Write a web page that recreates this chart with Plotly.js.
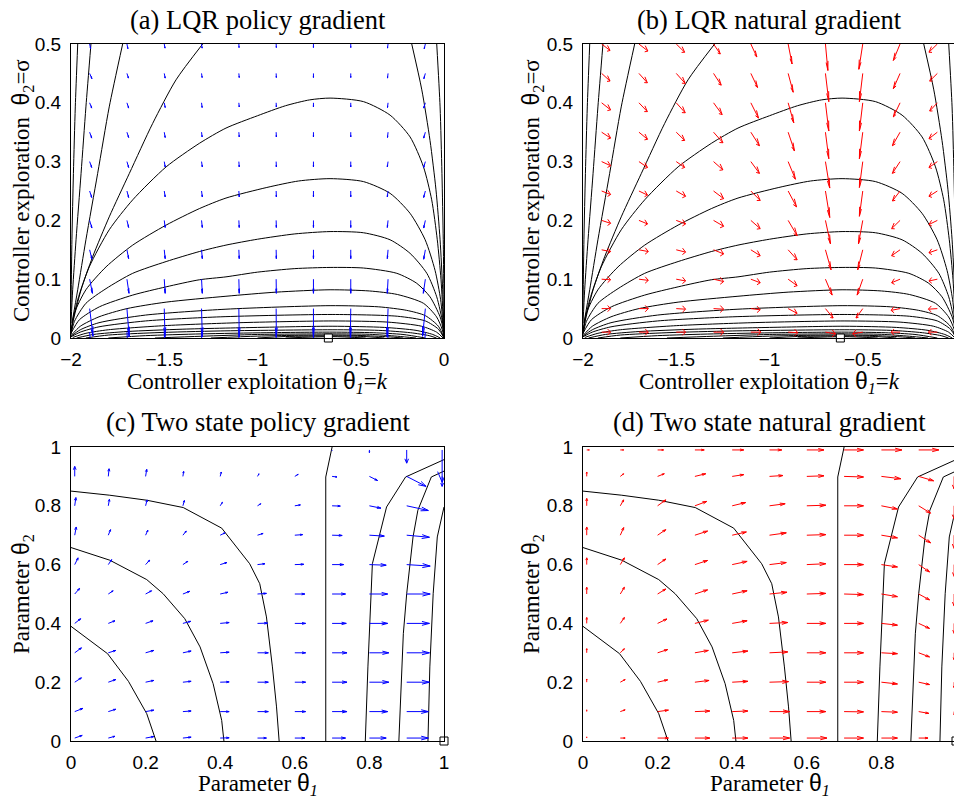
<!DOCTYPE html>
<html><head><meta charset="utf-8">
<script src="https://cdn.plot.ly/plotly-3.0.1.min.js"></script>
<style>html,body{margin:0;padding:0;overflow:hidden;background:#fff}#plot{width:960px;height:802px}</style>
</head><body><div id="plot"></div>
<script>
// ---------- LQR panels (a),(b) ----------
const lqrK = [-1.9,-1.7,-1.5,-1.3,-1.1,-0.9,-0.7,-0.5,-0.3,-0.1];
const lqrSigma = [0.01,0.05,0.10,0.15,0.20,0.25,0.30,0.35,0.40,0.45,0.50];

// vanilla policy gradient (a): rows follow lqrSigma, columns follow lqrK
const pgU_lqr = [
 [0.021,0.016,0.008,0.005,0.003,0.001,0,-0.002,-0.006,-0.016],
 [0.018,0.012,0.004,0.004,0.002,0.001,0,-0.002,-0.005,-0.015],
 [0.015,0.011,0.005,0.004,0.002,0.001,0,0,-0.004,-0.011],
 [0.012,0.009,0.005,0.004,0.002,0.001,0,0,-0.004,-0.009],
 [0.012,0.009,0.005,0.004,0.002,0.001,0,0,-0.004,-0.009],
 [0.011,0.009,0.005,0.004,0.002,0.001,0,0,-0.004,-0.009],
 [0.011,0.009,0.005,0.004,0.002,0.001,0,0,-0.004,-0.009],
 [0.011,0.009,0.005,0.003,0.002,0.001,0,0,-0.003,-0.009],
 [0.011,0.009,0.005,0.003,0.002,0.001,0,0,-0.003,-0.009],
 [0.012,0.008,0.005,0.003,0.002,0.001,0,0,-0.003,-0.008],
 [0.005,0.005,0.004,0.003,0.001,0.001,0,0,-0.003,-0.006]];
const pgV_lqr = [
 [-0.080,-0.080,-0.080,-0.080,-0.080,-0.080,-0.080,-0.080,-0.080,-0.080],
 [-0.047,-0.048,-0.048,-0.048,-0.048,-0.048,-0.048,-0.048,-0.048,-0.047],
 [-0.024,-0.024,-0.024,-0.024,-0.024,-0.024,-0.024,-0.024,-0.024,-0.024],
 [-0.016,-0.015,-0.015,-0.015,-0.015,-0.015,-0.015,-0.015,-0.015,-0.016],
 [-0.013,-0.012,-0.012,-0.012,-0.012,-0.012,-0.012,-0.012,-0.012,-0.013],
 [-0.011,-0.011,-0.010,-0.010,-0.010,-0.010,-0.010,-0.010,-0.010,-0.011],
 [-0.010,-0.010,-0.009,-0.009,-0.009,-0.009,-0.009,-0.009,-0.009,-0.010],
 [-0.010,-0.009,-0.009,-0.008,-0.008,-0.008,-0.008,-0.008,-0.009,-0.010],
 [-0.009,-0.009,-0.008,-0.008,-0.007,-0.007,-0.007,-0.007,-0.008,-0.009],
 [-0.009,-0.008,-0.008,-0.007,-0.007,-0.007,-0.007,-0.007,-0.008,-0.009],
 [-0.008,-0.008,-0.007,-0.007,-0.006,-0.006,-0.006,-0.006,-0.007,-0.008]];

// natural gradient (b)
const ngU_lqr = [
 [0.048,0.050,0.050,0.054,0.054,0.052,0.054,-0.054,-0.048,-0.048],
 [0.048,0.050,0.050,0.054,0.050,0.048,0.041,-0.036,-0.048,-0.048],
 [0.048,0.050,0.050,0.054,0.050,0.048,0.036,-0.030,-0.045,-0.045],
 [0.048,0.050,0.050,0.054,0.050,0.048,0.030,-0.027,-0.045,-0.045],
 [0.048,0.046,0.050,0.054,0.050,0.048,0.027,-0.023,-0.045,-0.045],
 [0.048,0.046,0.050,0.054,0.050,0.045,0.023,-0.018,-0.041,-0.045],
 [0.048,0.046,0.045,0.050,0.046,0.039,0.023,-0.018,-0.041,-0.045],
 [0.048,0.046,0.045,0.050,0.046,0.034,0.018,-0.018,-0.041,-0.045],
 [0.048,0.045,0.048,0.046,0.041,0.030,0.018,-0.018,-0.036,-0.041],
 [0.045,0.045,0.048,0.041,0.036,0.027,0.018,-0.018,-0.036,-0.041],
 [0.045,0.048,0.045,0.036,0.032,0.021,0.013,-0.021,-0.036,-0.045]];
const ngV_lqr = [
 [0,0,0,0,0,-0.001,-0.003,-0.003,0,0],
 [0,0,-0.001,-0.001,-0.002,-0.008,-0.016,-0.016,-0.003,-0.001],
 [-0.001,-0.002,-0.003,-0.004,-0.006,-0.011,-0.027,-0.027,-0.006,-0.003],
 [-0.003,-0.003,-0.004,-0.007,-0.010,-0.017,-0.034,-0.034,-0.010,-0.005],
 [-0.005,-0.006,-0.006,-0.010,-0.014,-0.026,-0.040,-0.040,-0.014,-0.007],
 [-0.006,-0.007,-0.009,-0.013,-0.016,-0.027,-0.045,-0.043,-0.017,-0.009],
 [-0.007,-0.010,-0.010,-0.014,-0.020,-0.030,-0.045,-0.044,-0.020,-0.010],
 [-0.010,-0.012,-0.014,-0.018,-0.023,-0.032,-0.045,-0.045,-0.023,-0.011],
 [-0.012,-0.015,-0.017,-0.020,-0.026,-0.034,-0.048,-0.048,-0.024,-0.014],
 [-0.013,-0.016,-0.017,-0.020,-0.024,-0.032,-0.048,-0.048,-0.026,-0.013],
 [-0.011,-0.012,-0.014,-0.017,-0.022,-0.034,-0.045,-0.043,-0.028,-0.014]];

// cost contour lines (same in (a) and (b))
const lqrContourX = [
 [-2.0,-1.995,-1.987,-1.977,-1.964],
 [-2.0,-1.991,-1.973,-1.946,-1.92,-1.893],
 [-1.995,-1.964,-1.92,-1.857,-1.795,-1.723],
 [-2.0,-1.991,-1.946,-1.884,-1.795,-1.687,-1.562,-1.437,-1.294],
 [-0.173,-0.119,-0.075,-0.043,-0.021,-0.007,0.0],
 [-0.039,-0.021,-0.011,-0.004,0.0],
 [-2.0,-1.964,-1.902,-1.795,-1.669,-1.49,-1.312,-1.169,-1.0,-0.85,-0.72,-0.611,-0.432,-0.289,-0.182,-0.110,-0.066,-0.036,-0.016,-0.004,0.0],
 [-2.0,-1.982,-1.92,-1.812,-1.669,-1.49,-1.312,-1.169,-0.95,-0.78,-0.611,-0.432,-0.289,-0.182,-0.101,-0.048,-0.018,-0.004,0.0],
 [-2.0,-1.982,-1.92,-1.812,-1.669,-1.49,-1.312,-1.169,-1.0,-0.8,-0.611,-0.432,-0.289,-0.182,-0.092,-0.039,-0.007,0.0],
 [-2.0,-1.955,-1.848,-1.669,-1.49,-1.312,-1.169,-1.0,-0.8,-0.611,-0.432,-0.253,-0.146,-0.075,-0.021,-0.004,0.0],
 [-2.0,-1.95,-1.85,-1.70,-1.49,-1.169,-0.9,-0.611,-0.4,-0.25,-0.11,-0.04,-0.01,0.0],
 [-2.0,-1.95,-1.85,-1.6,-1.169,-0.611,-0.35,-0.2,-0.1,-0.03,0.0],
 [-2.0,-1.95,-1.85,-1.6,-1.2,-0.6,-0.25,-0.1,-0.03,0.0],
 [-1.99,-1.92,-1.8,-1.5,-1.1,-0.6,-0.3,-0.12,-0.04,-0.005],
 [-1.97,-1.88,-1.7,-1.4,-1.0,-0.6,-0.32,-0.15,-0.06,-0.02],
 [-1.92,-1.8,-1.55,-1.2,-0.6,-0.35,-0.18,-0.08,-0.04],
 [-1.8,-1.6,-1.3,-0.95,-0.6,-0.38,-0.22,-0.1],
 [-1.55,-1.3,-1.0,-0.6,-0.4,-0.25,-0.15],
 [-1.25,-1.0,-0.8,-0.6,-0.45,-0.3,-0.22],
 [-1.0,-0.85,-0.6,-0.45,-0.32],
 [-0.85,-0.6,-0.42]];
const lqrContourY = [
 [0.05,0.167,0.28,0.393,0.5],
 [0.025,0.082,0.167,0.28,0.393,0.5],
 [0.025,0.082,0.167,0.28,0.393,0.5],
 [0.008,0.025,0.082,0.138,0.206,0.28,0.365,0.439,0.5],
 [0.5,0.422,0.336,0.252,0.167,0.082,0.008],
 [0.5,0.393,0.28,0.167,0.053],
 [0.014,0.065,0.121,0.184,0.235,0.291,0.331,0.357,0.378,0.395,0.405,0.408,0.402,0.379,0.342,0.291,0.235,0.167,0.099,0.031,0.0],
 [0.008,0.042,0.082,0.121,0.158,0.192,0.220,0.238,0.256,0.267,0.271,0.266,0.246,0.212,0.167,0.115,0.065,0.019,0.0],
 [0.006,0.028,0.059,0.084,0.110,0.130,0.147,0.158,0.168,0.177,0.181,0.179,0.167,0.144,0.110,0.070,0.025,0.0],
 [0.008,0.031,0.053,0.073,0.087,0.099,0.104,0.112,0.118,0.120,0.119,0.110,0.093,0.070,0.036,0.014,0.0],
 [0.004,0.020,0.036,0.050,0.061,0.071,0.078,0.082,0.080,0.074,0.059,0.036,0.015,0.0],
 [0.003,0.014,0.026,0.039,0.049,0.055,0.053,0.047,0.038,0.020,0.0],
 [0.002,0.010,0.019,0.029,0.036,0.040,0.037,0.029,0.015,0.0],
 [0.001,0.008,0.014,0.021,0.026,0.029,0.027,0.020,0.010,0.0],
 [0.0,0.006,0.011,0.015,0.018,0.020,0.018,0.013,0.006,0.0],
 [0.0,0.005,0.009,0.012,0.014,0.013,0.009,0.004,0.0],
 [0.0,0.004,0.007,0.009,0.010,0.009,0.006,0.0],
 [0.0,0.003,0.006,0.007,0.0063,0.003,0.0],
 [0.0,0.0032,0.0045,0.005,0.0043,0.002,0.0],
 [0.0,0.0025,0.0035,0.0028,0.0],
 [0.0,0.0023,0.0]];
const lqrOptimum = {k: [-0.62], sigma: [0]};

// ---------- Two state panels (c),(d) ----------
const tsTheta1 = [0.01,0.1,0.2,0.3,0.4,0.5,0.6,0.7,0.8,0.9,0.995];
const tsTheta2 = [0.01,0.1,0.2,0.3,0.4,0.5,0.6,0.7,0.8,0.9,0.99];

const pgU_ts = [
 [0.020,0.018,0.022,0.022,0.024,0.024,0.027,0.036,0.045,0.058,0],
 [0.022,0.020,0.022,0.022,0.024,0.029,0.029,0.040,0.049,0.058,0],
 [0.018,0.020,0.022,0.022,0.024,0.029,0.029,0.040,0.052,0.061,0],
 [0.018,0.020,0.022,0.022,0.024,0.029,0.029,0.040,0.052,0.061,0],
 [0.016,0.018,0.020,0.021,0.024,0.027,0.029,0.038,0.049,0.061,0],
 [0.013,0.013,0.016,0.018,0.021,0.024,0.027,0.036,0.049,0.063,0],
 [0.009,0.009,0.011,0.013,0.018,0.020,0.024,0.031,0.045,0.063,0],
 [0.004,0.006,0.006,0.009,0.013,0.015,0.021,0.027,0.040,0.061,0],
 [0.003,0.003,0.004,0.004,0.006,0.009,0.015,0.022,0.031,0.058,0],
 [0,0.002,0.003,0.002,0.003,0.004,0.009,0.013,0.022,0.052,0],
 [0,0,0,0,0,0,0,0,0,0,0]];
const pgV_ts = [
 [0.009,0.006,0.005,0.003,0.001,0,0,0,0,0,0],
 [0.011,0.008,0.005,0.002,0,0,0,0,0,0,0],
 [0.015,0.009,0.006,0.003,0.001,0,0,0,0,0,0],
 [0.017,0.008,0.008,0.006,0.002,0,0,0,0,0,0],
 [0.016,0.009,0.009,0.007,0.003,0.001,0,0,0,0,0],
 [0.019,0.011,0.011,0.009,0.006,0.002,0,0,0,0,0],
 [0.023,0.017,0.015,0.011,0.007,0.003,0.001,0,-0.002,-0.005,0],
 [0.028,0.019,0.017,0.014,0.008,0.006,0.002,-0.001,-0.003,-0.007,0],
 [0.028,0.022,0.020,0.018,0.012,0.007,0.003,-0.001,-0.008,-0.016,0],
 [0.034,0.026,0.024,0.017,0.015,0.009,0.007,-0.002,-0.014,-0.034,-0.034],
 [0,0,0,0,0,0,0,-0.002,-0.009,-0.045,-0.110]];

const ngU_ts = [
 [0,0.013,0.029,0.040,0.042,0.054,0.054,0.052,0.043,0.025,0],
 [0,0.013,0.029,0.040,0.042,0.054,0.051,0.052,0.043,0.027,0],
 [0,0.013,0.027,0.038,0.042,0.051,0.051,0.052,0.043,0.029,0],
 [0,0.011,0.027,0.036,0.042,0.049,0.051,0.052,0.043,0.029,0],
 [0,0.011,0.025,0.036,0.040,0.049,0.051,0.052,0.043,0.029,0],
 [0,0.011,0.022,0.034,0.040,0.047,0.051,0.052,0.043,0.029,0],
 [0,0.011,0.022,0.034,0.040,0.045,0.051,0.052,0.043,0.029,0],
 [0,0.009,0.022,0.034,0.038,0.045,0.051,0.052,0.043,0.032,0],
 [0,0.009,0.022,0.032,0.036,0.042,0.051,0.052,0.043,0.032,0],
 [0,0.009,0.018,0.029,0.031,0.036,0.046,0.052,0.052,0.040,0],
 [0.007,0.009,0.016,0.025,0.031,0.033,0.046,0.052,0.055,0.054,0]];
const ngV_ts = [
 [0.004,0,0,0,0,0,0,0,0,0,0],
 [0.006,0.006,0.005,0.002,0.002,0,0,-0.001,-0.002,-0.006,-0.011],
 [0.011,0.009,0.008,0.006,0.003,0.002,0,0,-0.006,-0.008,-0.019],
 [0.014,0.014,0.011,0.008,0.006,0.003,0,0,-0.003,-0.014,-0.024],
 [0.020,0.020,0.015,0.011,0.009,0.003,0,0,-0.006,-0.017,-0.034],
 [0.023,0.023,0.017,0.014,0.011,0.006,0.002,-0.002,-0.009,-0.020,-0.041],
 [0.023,0.023,0.019,0.014,0.011,0.007,0.003,0,-0.008,-0.025,-0.040],
 [0.028,0.026,0.019,0.014,0.011,0.008,0.002,0,-0.009,-0.026,-0.045],
 [0.025,0.020,0.020,0.015,0.011,0.007,0.002,0,-0.011,-0.025,-0.045],
 [0.015,0.009,0.009,0.009,0.006,0.003,0.002,-0.002,-0.008,-0.015,-0.043],
 [0,0,0,0,0,0,0,0,0,0,0]];

const tsContourX = [
 [0,0.098,0.154,0.203,0.228],
 [0,0.104,0.203,0.247,0.305,0.346,0.381,0.404,0.41],
 [0,0.104,0.203,0.301,0.404,0.479,0.506,0.524,0.540,0.551,0.558],
 [0.683,0.683,0.700],
 [0.789,0.796,0.808,0.828,0.846,0.897,1.0],
 [0.879,0.891,0.900,0.917,0.930,0.966,1.0],
 [0.957,0.962,0.971,0.982,1.0]];
const tsContourY = [
 [0.390,0.297,0.203,0.093,0],
 [0.658,0.615,0.549,0.501,0.416,0.320,0.195,0.070,0],
 [0.850,0.836,0.819,0.794,0.724,0.603,0.535,0.422,0.252,0.116,0],
 [0,0.898,1.0],
 [0,0.252,0.603,0.700,0.796,0.898,0.957],
 [0,0.365,0.501,0.694,0.785,0.898,0.918],
 [0,0.252,0.501,0.694,0.796]];
const tsOptimum = {t1: [1], t2: [0]};

// ---------- helpers ----------
function quiver(xg, yg, U, V, color, xa, ya) {
  const xs = [], ys = [], a = 0.33, b = 0.33;
  for (let i = 0; i < yg.length; i++) for (let j = 0; j < xg.length; j++) {
    const x = xg[j], y = yg[i], u = U[i][j], v = V[i][j];
    if (u === 0 && v === 0) continue;
    xs.push(x, x + u, null); ys.push(y, y + v, null);
    xs.push(x + u - a * (u + b * v), x + u, x + u - a * (u - b * v), null);
    ys.push(y + v - a * (v - b * u), y + v, y + v - a * (v + b * u), null);
  }
  return {type:'scatter', mode:'lines', x:xs, y:ys, xaxis:xa, yaxis:ya,
          line:{color:color, width:1}, hoverinfo:'skip', showlegend:false};
}
function contours(CX, CY, xa, ya, shape) {
  const xs = [], ys = [];
  CX.forEach((row, i) => { xs.push(...row, null); ys.push(...CY[i], null); });
  return {type:'scatter', mode:'lines', x:xs, y:ys, xaxis:xa, yaxis:ya,
          line:{color:'#000', width:1, shape:shape, smoothing:0.7}, hoverinfo:'skip', showlegend:false};
}
function marker(x, y, xa, ya) {
  return {type:'scatter', mode:'markers', x:x, y:y, xaxis:xa, yaxis:ya, cliponaxis:false,
          marker:{symbol:'square', size:8, color:'#fff', line:{color:'#000', width:1}},
          hoverinfo:'skip', showlegend:false};
}

const traces = [
  contours(lqrContourX, lqrContourY, 'x', 'y', 'spline'),
  quiver(lqrK, lqrSigma, pgU_lqr, pgV_lqr, '#0000ff', 'x', 'y'),
  marker(lqrOptimum.k, lqrOptimum.sigma, 'x', 'y'),
  contours(lqrContourX, lqrContourY, 'x2', 'y2', 'spline'),
  quiver(lqrK, lqrSigma, ngU_lqr, ngV_lqr, '#ff0000', 'x2', 'y2'),
  marker(lqrOptimum.k, lqrOptimum.sigma, 'x2', 'y2'),
  contours(tsContourX, tsContourY, 'x3', 'y3', 'linear'),
  quiver(tsTheta1, tsTheta2, pgU_ts, pgV_ts, '#0000ff', 'x3', 'y3'),
  marker(tsOptimum.t1, tsOptimum.t2, 'x3', 'y3'),
  contours(tsContourX, tsContourY, 'x4', 'y4', 'linear'),
  quiver(tsTheta1, tsTheta2, ngU_ts, ngV_ts, '#ff0000', 'x4', 'y4'),
  marker(tsOptimum.t1, tsOptimum.t2, 'x4', 'y4')
];

const W = 960, H = 802;
const px = v => v / W, py = v => 1 - v / H;
const tickFont = {family:'Liberation Sans, Arial, sans-serif', size:19, color:'#000'};
function ax(range, tickvals, dom, anchor, standoff) {
  return {range:range, domain:dom, anchor:anchor, tickvals:tickvals, ticks:'',
          showline:true, linecolor:'#000', linewidth:1, mirror:true,
          showgrid:false, zeroline:false, tickfont:tickFont, ticklabelstandoff:standoff, fixedrange:true};
}
const domL = [px(71), px(444)], domR = [px(583), px(956)];
const domT = [py(338), py(44)], domB = [py(741), py(447)];
const kTicks = [-2,-1.5,-1,-0.5,0], sTicks = [0,0.1,0.2,0.3,0.4,0.5], tTicks = [0,0.2,0.4,0.6,0.8,1];

const serif = s => ({family:'Liberation Serif, Times New Roman, serif', size:s, color:'#000'});
function ann(text, x, y, size, angle) {
  return {text:text, x:px(x), y:py(y), xref:'paper', yref:'paper', showarrow:false,
          xanchor:'center', yanchor:'middle', font:serif(size), textangle:angle || 0};
}
const th = '<span style="font-family:Liberation Sans, Arial, sans-serif">θ</span>';
const xLabLQR = 'Controller exploitation ' + th + '<sub><i>1</i></sub>=<i>k</i>';
const yLabLQR = 'Controller exploration  ' + th + '<sub>2</sub>=σ';
const xLabTS = 'Parameter ' + th + '<sub><i>1</i></sub>';
const yLabTS = 'Parameter ' + th + '<sub>2</sub>';

const layout = {
  width:W, height:H, margin:{l:0, r:0, t:0, b:0}, paper_bgcolor:'#fff', plot_bgcolor:'#fff',
  showlegend:false,
  xaxis: ax([-2,0], kTicks, domL, 'y', 4),  yaxis: ax([0,0.5], sTicks, domT, 'x', 5),
  xaxis2:ax([-2,0], kTicks, domR, 'y2', 4), yaxis2:ax([0,0.5], sTicks, domT, 'x2', 5),
  xaxis3:ax([0,1], tTicks, domL, 'y3', 4),  yaxis3:ax([0,1], tTicks, domB, 'x3', 5),
  xaxis4:ax([0,1], tTicks, domR, 'y4', 4),  yaxis4:ax([0,1], tTicks, domB, 'x4', 5),
  annotations:[
    ann('(a) LQR policy gradient', 257.5, 20, 26.5),
    ann('(b) LQR natural gradient', 769.5, 20, 26.5),
    ann('(c) Two state policy gradient', 257.5, 422, 26.5),
    ann('(d) Two state natural gradient', 769.5, 422, 26.5),
    ann(xLabLQR, 257.5, 382, 23), ann(xLabLQR, 769.5, 382, 23),
    ann(yLabLQR, 22, 191, 23, -90), ann(yLabLQR, 532, 191, 23, -90),
    ann(xLabTS, 257.5, 784, 23), ann(xLabTS, 769.5, 784, 23),
    ann(yLabTS, 22, 594, 23, -90), ann(yLabTS, 532, 594, 23, -90)
  ]
};
Plotly.newPlot('plot', traces, layout, {displayModeBar:false, staticPlot:true});
</script></body></html>
